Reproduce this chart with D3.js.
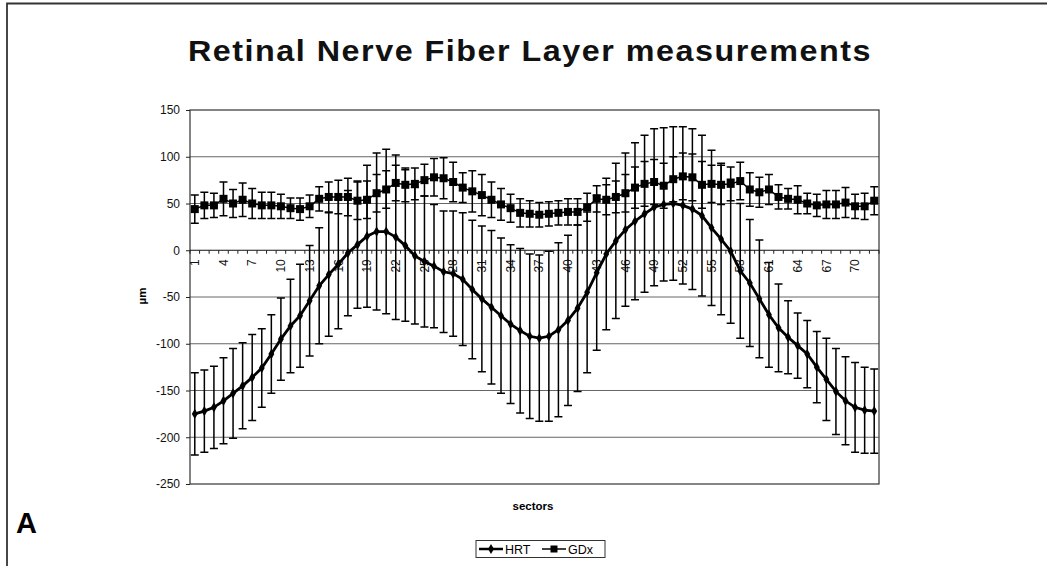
<!DOCTYPE html>
<html>
<head>
<meta charset="utf-8">
<script src="https://cdn.jsdelivr.net/npm/d3@7"></script>
<style>
  html, body { margin: 0; padding: 0; background: #fff; }
  svg { display: block; font-family: "Liberation Sans", Arial, sans-serif; }
</style>
</head>
<body>
<svg id="chart" width="1047" height="566"></svg>
<script>
// ---- data ----
const sectors = d3.range(1, 73);
const tickLabels = d3.range(1, 73, 3);
const yTicks = [150, 100, 50, 0, -50, -100, -150, -200, -250];

const hrtMean = [-175,-172,-168,-161,-153,-145,-136,-126,-111,-95,-81,-70,-54,-38,-26,-15,-3,6,15,20,
  20,14,5,-6,-12,-17,-23,-25,-31,-42,-52,-61,-70,-79,-86,-92,-94,-92,-85,-75,
  -62,-45,-24,-4,10,22,31,39,46,49,50,48,44,37,24,12,-1,-22,-35,-52,
  -69,-83,-93,-102,-111,-125,-138,-151,-161,-168,-171,-172];
const hrtSD = [44,44,44,46,48,46,46,42,42,44,50,55,59,62,66,69,67,68,76,84,
  88,88,81,73,70,66,65,67,71,74,78,82,83,85,88,88,89,91,93,91,
  89,86,83,81,83,82,84,84,84,82,82,84,86,86,83,81,77,72,68,63,
  56,47,39,35,36,38,44,46,47,48,46,45];
const gdxMean = [44,48,48,55,50,54,50,48,48,47,45,44,47,55,57,57,57,53,54,61,
  65,72,70,71,75,78,77,73,67,63,59,54,49,45,40,39,38,39,40,41,
  41,46,55,54,57,61,67,71,73,69,76,79,78,70,71,70,71,74,65,62,
  65,57,55,54,50,48,49,49,51,47,47,53];
const gdxSD = [15,14,13,18,15,18,16,14,14,13,11,12,12,13,16,18,20,20,20,20,
  20,19,18,17,17,20,22,21,16,22,22,19,17,15,15,14,13,13,13,14,
  14,15,14,16,17,20,22,24,24,24,24,25,25,25,20,21,18,20,18,16,
  16,13,11,15,11,12,15,15,16,13,14,15];

const hrt = sectors.map((s, i) => ({s, m: hrtMean[i], sd: hrtSD[i]}));
const gdx = sectors.map((s, i) => ({s, m: gdxMean[i], sd: gdxSD[i]}));

// ---- layout ----
const svg = d3.select("#chart");
const L = 190, R = 879, T = 110, B = 484;

const x = d3.scaleBand().domain(sectors).range([L, R]).padding(0);
const cx = d => x(d) + x.bandwidth() / 2;
const y = d3.scaleLinear().domain([-250, 150]).range([B, T]);

// outer frame
svg.append("path")
  .attr("d", `M7,566 L7,3.5 L1047,3.5`)
  .attr("fill", "none").attr("stroke", "#333").attr("stroke-width", 1.8);

// title
svg.append("text")
  .attr("x", 530).attr("y", 61)
  .attr("text-anchor", "middle")
  .attr("font-size", 30).attr("font-weight", "bold")
  .attr("letter-spacing", 1.4)
  .attr("textLength", 684).attr("lengthAdjust", "spacingAndGlyphs")
  .attr("fill", "#111")
  .text("Retinal Nerve Fiber Layer measurements");

// gridlines
svg.append("g").selectAll("line")
  .data(yTicks.filter(v => v !== 150 && v !== -250 && v !== 0))
  .join("line")
  .attr("x1", L).attr("x2", R)
  .attr("y1", d => y(d)).attr("y2", d => y(d))
  .attr("stroke", "#666").attr("stroke-width", 1);

// plot border
svg.append("rect")
  .attr("x", L).attr("y", T).attr("width", R - L).attr("height", B - T)
  .attr("fill", "none").attr("stroke", "#333").attr("stroke-width", 1.2);

// y axis
const yAxis = d3.axisLeft(y).tickValues(yTicks).tickSize(4).tickPadding(6)
  .tickFormat(d => String(d));
const gy = svg.append("g").attr("transform", `translate(${L},0)`).call(yAxis);
gy.select(".domain").remove();
gy.selectAll("text").attr("font-size", 12).attr("fill", "#111")
  .attr("font-family", "Liberation Sans, Arial, sans-serif");
gy.selectAll("line").attr("stroke", "#222");

// y label
svg.append("text")
  .attr("transform", "translate(146,296) rotate(-90)")
  .attr("text-anchor", "middle")
  .attr("font-size", 11.5).attr("font-weight", "bold")
  .text("µm");

// x axis (at 0)
const y0 = y(0);
svg.append("line").attr("x1", L).attr("x2", R).attr("y1", y0).attr("y2", y0)
  .attr("stroke", "#111").attr("stroke-width", 1.2);
svg.append("g").selectAll("line")
  .data(sectors.concat([73]))
  .join("line")
  .attr("x1", d => d === 73 ? R : x(d)).attr("x2", d => d === 73 ? R : x(d))
  .attr("y1", y0).attr("y2", y0 + 3.5)
  .attr("stroke", "#222").attr("stroke-width", 1);
svg.append("g").selectAll("text")
  .data(tickLabels)
  .join("text")
  .attr("transform", d => `translate(${cx(d)},${y0 + 9}) rotate(-90)`)
  .attr("text-anchor", "end")
  .attr("dy", "0.35em")
  .attr("font-size", 12).attr("fill", "#111")
  .text(d => d);

// x label
svg.append("text")
  .attr("x", 533).attr("y", 510)
  .attr("text-anchor", "middle")
  .attr("font-size", 11.5).attr("font-weight", "bold")
  .text("sectors");

// "A"
svg.append("text")
  .attr("x", 16).attr("y", 533)
  .attr("font-size", 29).attr("font-weight", "bold")
  .text("A");

// error bars
function errorBars(data, cls) {
  const g = svg.append("g").attr("class", cls)
    .attr("stroke", "#000").attr("stroke-width", 1.5).attr("fill", "none");
  const cap = 4;
  g.selectAll("path")
    .data(data)
    .join("path")
    .attr("d", d => {
      const xc = cx(d.s), yt = y(d.m + d.sd), yb = y(d.m - d.sd);
      return `M${xc},${yt}V${yb}M${xc - cap},${yt}H${xc + cap}M${xc - cap},${yb}H${xc + cap}`;
    });
}
errorBars(gdx, "gdx-err");
errorBars(hrt, "hrt-err");

// lines
const line = d3.line().x(d => cx(d.s)).y(d => y(d.m));
svg.append("path").datum(gdx).attr("d", line)
  .attr("fill", "none").attr("stroke", "#000").attr("stroke-width", 1.5);
svg.append("path").datum(hrt).attr("d", line)
  .attr("fill", "none").attr("stroke", "#000").attr("stroke-width", 2.8);

// markers
svg.append("g").selectAll("rect")
  .data(gdx).join("rect")
  .attr("x", d => cx(d.s) - 4).attr("y", d => y(d.m) - 4)
  .attr("width", 8).attr("height", 8).attr("fill", "#000");
const diamond = d3.symbol().type(d3.symbolDiamond).size(30);
svg.append("g").selectAll("path")
  .data(hrt).join("path")
  .attr("transform", d => `translate(${cx(d.s)},${y(d.m)})`)
  .attr("d", diamond).attr("fill", "#000");

// legend
const lg = svg.append("g");
lg.append("rect").attr("x", 476).attr("y", 540.5).attr("width", 129).attr("height", 17)
  .attr("fill", "#fff").attr("stroke", "#333").attr("stroke-width", 1);
const legendItems = [
  {name: "HRT", x0: 479, type: "diamond"},
  {name: "GDx", x0: 542, type: "square"}
];
legendItems.forEach(it => {
  const ly = 549;
  lg.append("line").attr("x1", it.x0).attr("x2", it.x0 + 24).attr("y1", ly).attr("y2", ly)
    .attr("stroke", "#000").attr("stroke-width", it.type === "diamond" ? 2.5 : 1.5);
  if (it.type === "diamond") {
    lg.append("path").attr("transform", `translate(${it.x0 + 12},${ly})`)
      .attr("d", d3.symbol().type(d3.symbolDiamond).size(30)).attr("fill", "#000");
  } else {
    lg.append("rect").attr("x", it.x0 + 12 - 3.5).attr("y", ly - 3.5)
      .attr("width", 7).attr("height", 7).attr("fill", "#000");
  }
  lg.append("text").attr("x", it.x0 + 26).attr("y", ly + 4.5)
    .attr("font-size", 12.5).text(it.name);
});
</script>
</body>
</html>
